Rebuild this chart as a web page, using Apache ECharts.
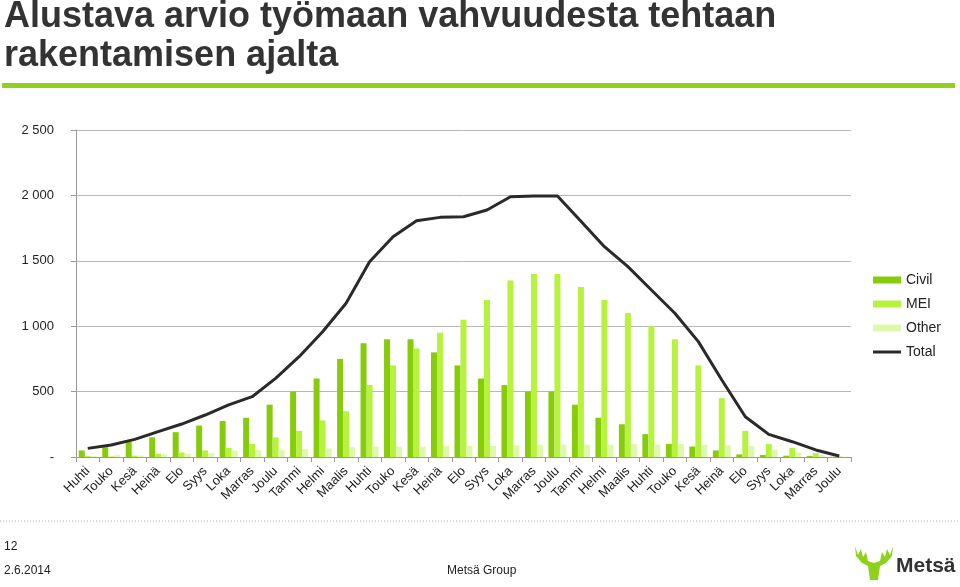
<!DOCTYPE html>
<html>
<head>
<meta charset="utf-8">
<script src="https://cdn.jsdelivr.net/npm/echarts@6/dist/echarts.min.js"></script>
<style>
html,body{margin:0;padding:0;background:#fff;}
#c{width:960px;height:587px;}
</style>
</head>
<body>
<div id="c"></div>
<script>
const categories = ['Huhti','Touko','Kesä','Heinä','Elo','Syys','Loka','Marras','Joulu','Tammi','Helmi','Maalis',
  'Huhti','Touko','Kesä','Heinä','Elo','Syys','Loka','Marras','Joulu','Tammi','Helmi','Maalis',
  'Huhti','Touko','Kesä','Heinä','Elo','Syys','Loka','Marras','Joulu'];
const civil = [50,75,115,150,190,240,275,300,400,500,600,750,870,900,900,800,700,600,550,500,500,400,300,250,175,100,80,50,20,15,10,8,2];
const mei   = [8,5,10,25,35,50,70,100,150,200,280,350,550,700,830,950,1050,1200,1350,1400,1400,1300,1200,1100,1000,900,700,450,200,100,70,30,4];
const other = [5,15,10,20,25,30,50,55,55,60,65,75,80,80,80,85,85,85,90,95,95,95,95,100,95,100,95,90,85,55,35,15,2];
const total = [66,92,135,194,252,321,398,461,601,767,958,1175,1493,1684,1807,1832,1837,1888,1990,1995,1995,1802,1608,1455,1277,1099,882,589,308,173,117,54,8];
const yTicks = {0:'-',500:'500',1000:'1 000',1500:'1 500',2000:'2 000',2500:'2 500'};

const chart = echarts.init(document.getElementById('c'));
const F = 'Liberation Sans, Arial, sans-serif';
const TF = 'bold 36px "Liberation Sans", Arial, sans-serif';
chart.setOption({
  animation:false,
  textStyle:{fontFamily:F},
  grid:{left:76,right:109,top:130,bottom:130},
  legend:{
    orient:'vertical', left:868, top:268, itemWidth:28, itemHeight:7, itemGap:10,
    textStyle:{fontSize:14,color:'#222',fontFamily:F},
    data:[{name:'Civil',icon:'rect'},{name:'MEI',icon:'rect'},{name:'Other',icon:'rect'},
          {name:'Total',icon:'path://M0,0L28,0L28,3L0,3Z'}]
  },
  xAxis:{
    type:'category', data:categories, boundaryGap:true,
    axisLine:{lineStyle:{color:'#9a9a9a'}},
    axisTick:{show:true,length:5,lineStyle:{color:'#9a9a9a'}, alignWithLabel:false},
    axisLabel:{rotate:45,fontSize:13,color:'#222',interval:0,margin:12,fontFamily:F}
  },
  yAxis:{
    type:'value', min:0, max:2500, interval:500,
    axisLine:{show:true,lineStyle:{color:'#9a9a9a'}},
    axisTick:{show:true,length:5,inside:false,lineStyle:{color:'#9a9a9a'}},
    splitLine:{lineStyle:{color:'#b8b8b8'}},
    axisLabel:{fontSize:13,color:'#222',margin:22,fontFamily:F,formatter:v=>yTicks[v]}
  },
  series:[
    {name:'Civil',type:'bar',data:civil,barWidth:6,barGap:'0%',itemStyle:{color:'#86cc0a'}},
    {name:'MEI',type:'bar',data:mei,barWidth:6,barGap:'0%',itemStyle:{color:'#b6f23e'}},
    {name:'Other',type:'bar',data:other,barWidth:6,barGap:'0%',itemStyle:{color:'#def8ad'}},
    {name:'Total',type:'line',data:total,symbol:'none',lineStyle:{color:'#2a2a2a',width:3},itemStyle:{color:'#2a2a2a'}}
  ],
  graphic:[
    {type:'text',left:4,top:-1,style:{text:'Alustava arvio työmaan vahvuudesta tehtaan',font:TF,fill:'#333'}},
    {type:'text',left:4,top:38,style:{text:'rakentamisen ajalta',font:TF,fill:'#333'}},
    {type:'rect',shape:{x:2,y:83,width:953,height:5},style:{fill:'#93d01a'}},
    {type:'line',shape:{x1:0,y1:521,x2:960,y2:521},style:{stroke:'#aaa',lineWidth:1,lineDash:[1,2]}},
    {type:'text',left:4,top:541,style:{text:'12',font:'12px "Liberation Sans", sans-serif',fill:'#222'}},
    {type:'text',left:4,top:565,style:{text:'2.6.2014',font:'12px "Liberation Sans", sans-serif',fill:'#222'}},
    {type:'text',left:447,top:565,style:{text:'Metsä Group',font:'12px "Liberation Sans", sans-serif',fill:'#222'}},
    {type:'polygon',shape:{points:[[855,546],[858,555],[861,549],[863,557],[866,552],[868,561],[874,563],[880,561],[882,552],[885,557],[887,549],[890,555],[893,546],[892,556],[886,563],[880,566],[878,580],[870,580],[868,566],[862,563],[856,556]]},style:{fill:'#8fd11a'}},
    {type:'text',left:896,top:556,style:{text:'Metsä',font:'bold 21px "Liberation Sans", Arial, sans-serif',fill:'#333'}}
  ]
});
</script>
</body>
</html>
